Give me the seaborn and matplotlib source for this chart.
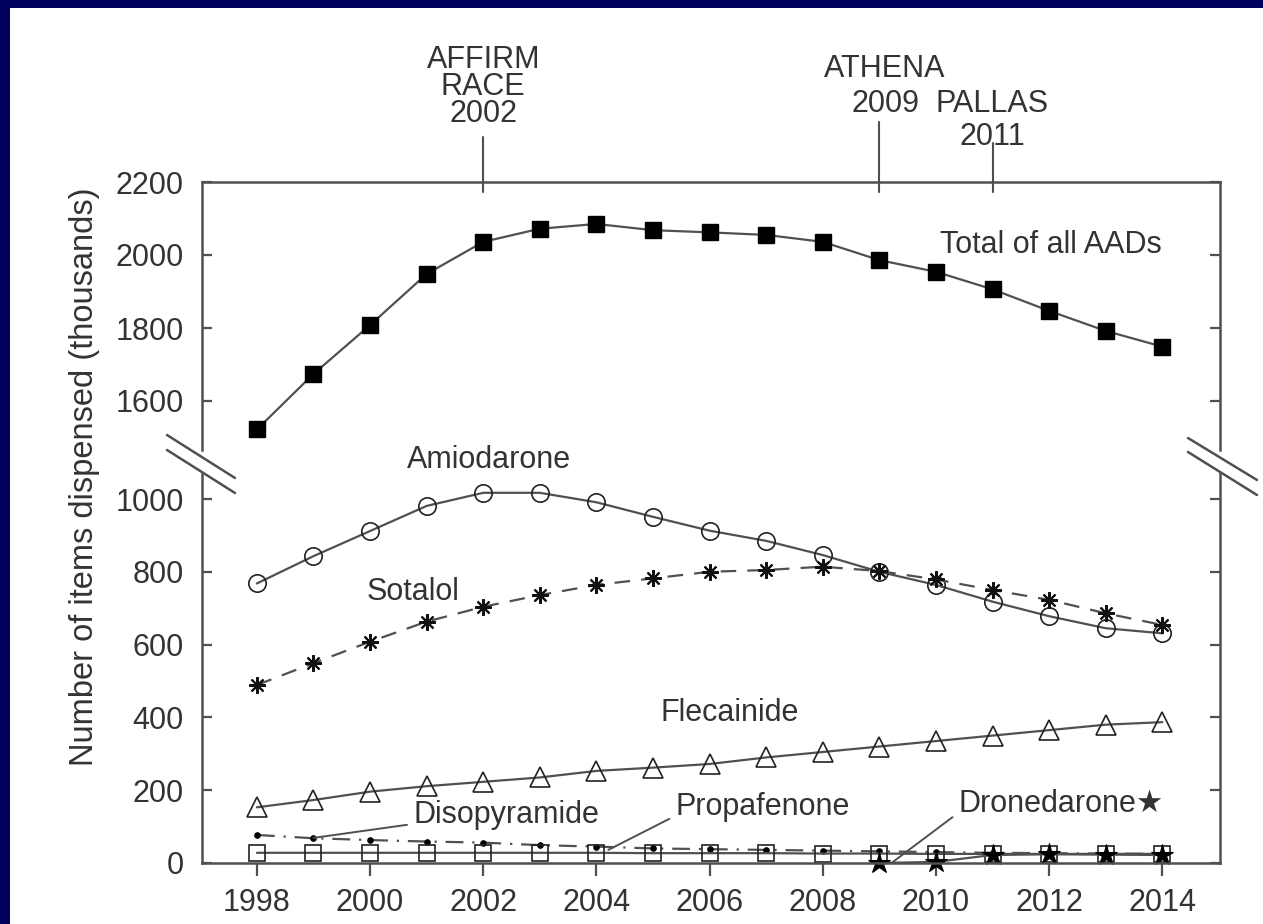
import matplotlib
matplotlib.use("Agg")
import matplotlib.pyplot as plt
from matplotlib.lines import Line2D
from matplotlib.patches import Rectangle
import seaborn as sns

# ---------------- data ----------------
years = list(range(1998, 2015))
total = [1522, 1674, 1808, 1948, 2036, 2072, 2085, 2068, 2062, 2055, 2036, 1986, 1954, 1906, 1847, 1792, 1749]
amiodarone = [768, 843, 912, 981, 1017, 1017, 991, 951, 913, 885, 846, 800, 764, 718, 678, 645, 631]
sotalol = [489, 549, 608, 663, 704, 736, 764, 782, 800, 805, 814, 802, 779, 750, 723, 686, 654]
flecainide = [153, 173, 196, 211, 223, 235, 253, 262, 272, 290, 305, 320, 335, 350, 365, 380, 387]
disopyramide = [77, 68, 63, 59, 56, 49, 45, 40, 38, 36, 34, 32, 30, 28, 27, 26, 25]
propafenone = [28, 28, 28, 28, 28, 28, 28, 27, 27, 27, 26, 26, 25, 25, 25, 25, 25]
drone_years = [2009, 2010, 2011, 2012, 2013, 2014]
dronedarone = [0, 3, 22, 24, 23, 22]

x_ticks = [1998, 2000, 2002, 2004, 2006, 2008, 2010, 2012, 2014]
lower_ticks = [0, 200, 400, 600, 800, 1000]
upper_ticks = [1600, 1800, 2000, 2200]
trials = [(2002, ["AFFIRM", "RACE", "2002"]), (2009, ["ATHENA", "2009"]), (2011, ["PALLAS", "2011"])]

# ---------------- style ----------------
sns.set_style("white")
plt.rcParams["font.family"] = ["Liberation Sans", "DejaVu Sans"]
TXT = "#333333"
LINE = "#505050"
EDGE = "#222222"
FS = 22

W, H = 1263, 924
fig = plt.figure(figsize=(W / 100, H / 100), dpi=100, facecolor="#00005e")
fig.add_artist(Rectangle((10 / W, 0), 1, (H - 8) / H, transform=fig.transFigure,
                         facecolor="white", edgecolor="none", zorder=-10))

left = 202 / W
width = (1220 - 202) / W
ax_lo = fig.add_axes([left, (H - 863) / H, width, (863 - 473) / H])
ax_hi = fig.add_axes([left, (H - 450) / H, width, (450 - 182) / H])

lw = 1.6
# upper: total
sns.lineplot(x=years, y=total, ax=ax_hi, color=LINE, linewidth=lw, marker="s", markersize=11,
             markerfacecolor="black", markeredgecolor="black", markeredgewidth=1)
# lower series
sns.lineplot(x=years, y=amiodarone, ax=ax_lo, color=LINE, linewidth=lw, marker="o", markersize=12.5,
             markerfacecolor="none", markeredgecolor=EDGE, markeredgewidth=1.2)
sns.lineplot(x=years, y=sotalol, ax=ax_lo, color=LINE, linewidth=lw, linestyle=(0, (7, 5)),
             marker=(8, 2, 0), markersize=12, markeredgecolor="#111111", markeredgewidth=1.5)
sns.lineplot(x=years, y=flecainide, ax=ax_lo, color=LINE, linewidth=lw, marker="^", markersize=15,
             markerfacecolor="none", markeredgecolor=EDGE, markeredgewidth=1.2)
sns.lineplot(x=years, y=disopyramide, ax=ax_lo, color=LINE, linewidth=lw, linestyle=(0, (8, 4, 1, 4)),
             marker="o", markersize=4, markerfacecolor="black", markeredgecolor="black")
sns.lineplot(x=years, y=propafenone, ax=ax_lo, color=LINE, linewidth=lw, marker="s", markersize=11,
             markerfacecolor="none", markeredgecolor=EDGE, markeredgewidth=1.2)
sns.lineplot(x=drone_years, y=dronedarone, ax=ax_lo, color=LINE, linewidth=lw, marker="*", markersize=16,
             markerfacecolor="black", markeredgecolor="black", markeredgewidth=0.8, clip_on=False)

xlim = (1997.03, 2015.02)
for ax in (ax_lo, ax_hi):
    ax.set_xlim(*xlim)
    ax.set_xlabel("")
    ax.set_ylabel("")
    ax.set_facecolor("none")
    for s in ax.spines.values():
        s.set_color(LINE)
        s.set_linewidth(1.8)
    ax.tick_params(axis="y", which="both", direction="in", length=7, width=1.6, color=LINE,
                   left=True, right=True, labelleft=True, labelright=False,
                   labelsize=FS, labelcolor=TXT, pad=13)

ax_lo.set_ylim(0, 390 / 0.364)
ax_hi.set_ylim(2200 - 268 / 0.365, 2200)
ax_lo.set_yticks(lower_ticks)
ax_hi.set_yticks(upper_ticks)
ax_lo.spines["top"].set_visible(False)
ax_hi.spines["bottom"].set_visible(False)

ax_lo.set_xticks(x_ticks)
ax_lo.set_xticklabels([str(t) for t in x_ticks])
ax_lo.tick_params(axis="x", direction="out", length=9, width=1.6, color=LINE, bottom=True, top=False,
                  labelsize=FS, labelcolor=TXT, pad=9)
ax_hi.set_xticks(x_ticks)
ax_hi.tick_params(axis="x", bottom=False, top=False, labelbottom=False)

# trial markers above the plot
ymaxes = {2002: (450 - 136.7) / 268, 2009: (450 - 121.7) / 268, 2011: (450 - 143.3) / 268}
baselines = {2002: [68, 95, 122], 2009: [77, 112], 2011: [112, 145]}
xoff = {2002: 0.0, 2009: 0.1, 2011: 0.0}
for yr, lines in trials:
    ax_hi.axvline(yr, ymin=(450 - 191.7) / 268, ymax=ymaxes[yr], color=LINE, lw=1.5, clip_on=False)
    for txt, bpx in zip(lines, baselines[yr]):
        ax_hi.text(yr + xoff[yr], (450 - bpx) / 268, txt, transform=ax_hi.get_xaxis_transform(),
                   ha="center", va="baseline", fontsize=FS, color=TXT)

# series labels
ax_hi.text(2010.07, 2004.7, "Total of all AADs", ha="left", va="baseline", fontsize=FS, color=TXT)
ax_lo.text(2000.66, 1085, "Amiodarone", ha="left", va="baseline", fontsize=FS, color=TXT, clip_on=False)
ax_lo.text(1999.94, 722, "Sotalol", ha="left", va="baseline", fontsize=FS, color=TXT)
ax_lo.text(2005.13, 390, "Flecainide", ha="left", va="baseline", fontsize=FS, color=TXT)

arrow = dict(arrowstyle="-", color=LINE, lw=1.4, shrinkA=2, shrinkB=0, relpos=(0, 0.2))
ax_lo.annotate("Disopyramide", xy=(1999.0, 69), xytext=(2000.76, 110), ha="left", va="baseline",
               fontsize=FS, color=TXT, arrowprops=arrow)
ax_lo.annotate("Propafenone", xy=(2004.21, 36), xytext=(2005.39, 132), ha="left", va="baseline",
               fontsize=FS, color=TXT, arrowprops=arrow)
ax_lo.annotate("Dronedarone\u2605", xy=(2009.24, 3), xytext=(2010.39, 140), ha="left", va="baseline",
               fontsize=FS, color=TXT, arrowprops=arrow)

# y label
fig.text(85 / W, 1 - 477 / H, "Number of items dispensed (thousands)", rotation=90,
         ha="center", va="center", fontsize=23.5, color=TXT)

# axis break marks
def brk(x0, y0, x1, y1):
    fig.add_artist(Line2D([x0 / W, x1 / W], [1 - y0 / H, 1 - y1 / H], transform=fig.transFigure,
                          color=LINE, lw=1.8))

brk(167, 435, 235, 478)
brk(167, 450, 235, 493)
brk(1188, 438, 1257, 480)
brk(1188, 452, 1257, 495)

fig.savefig("out.png", dpi=100, facecolor=fig.get_facecolor())
